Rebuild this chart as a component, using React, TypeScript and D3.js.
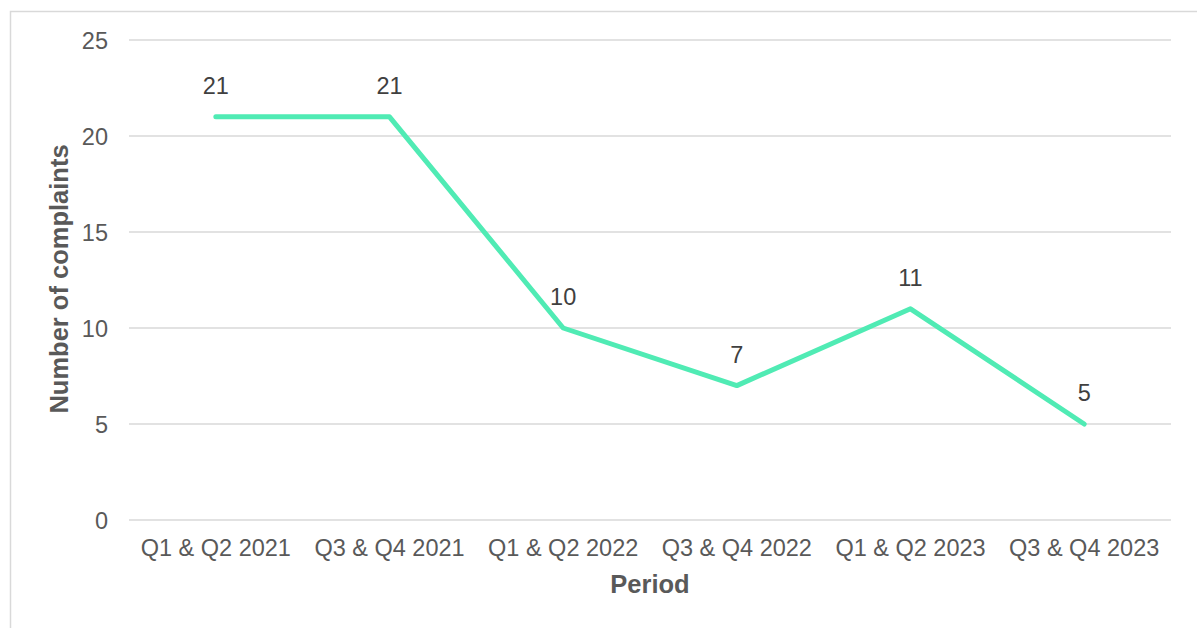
import React, { useRef, useEffect } from 'react';
import * as d3 from 'd3';

const periods = ['Q1 & Q2 2021', 'Q3 & Q4 2021', 'Q1 & Q2 2022', 'Q3 & Q4 2022', 'Q1 & Q2 2023', 'Q3 & Q4 2023'];
const complaints = [21, 21, 10, 7, 11, 5];
const yTicks = [0, 5, 10, 15, 20, 25];

const width = 1197;
const height = 628;
const font = "'Liberation Sans', Arial, sans-serif";

const App = () => {
  const ref = useRef<SVGSVGElement>(null);

  useEffect(() => {
    const svg = d3.select(ref.current);
    svg.selectAll('*').remove();

    // outer frame (runs off the right and bottom edges)
    svg.append('rect')
      .attr('x', 10.5).attr('y', 11.5)
      .attr('width', 1300).attr('height', 800)
      .attr('fill', 'none')
      .attr('stroke', '#d9d9d9')
      .attr('stroke-width', 1.5);

    const x = d3.scaleBand<string>().domain(periods).range([129, 1171]);
    const y = d3.scaleLinear().domain([0, 25]).range([520, 40]);

    // gridlines
    svg.append('g').selectAll('line')
      .data(yTicks)
      .join('line')
      .attr('x1', 129).attr('x2', 1171)
      .attr('y1', d => y(d)).attr('y2', d => y(d))
      .attr('stroke', '#d9d9d9')
      .attr('stroke-width', 1.3);

    // y tick labels
    svg.append('g').selectAll('text')
      .data(yTicks)
      .join('text')
      .attr('x', 108)
      .attr('y', d => y(d) + 8.5)
      .attr('text-anchor', 'end')
      .attr('font-family', font)
      .attr('font-size', 23.5)
      .attr('fill', '#595959')
      .text(d => d);

    // x tick labels
    svg.append('g').selectAll('text')
      .data(periods)
      .join('text')
      .attr('x', d => (x(d) ?? 0) + x.bandwidth() / 2)
      .attr('y', 556)
      .attr('text-anchor', 'middle')
      .attr('font-family', font)
      .attr('font-size', 23.5)
      .attr('fill', '#595959')
      .text(d => d);

    // line
    const line = d3.line<number>()
      .x((_, i) => (x(periods[i]) ?? 0) + x.bandwidth() / 2)
      .y(d => y(d));

    svg.append('path')
      .datum(complaints)
      .attr('d', line)
      .attr('fill', 'none')
      .attr('stroke', '#50EBB4')
      .attr('stroke-width', 5)
      .attr('stroke-linecap', 'round')
      .attr('stroke-linejoin', 'round');

    // data labels
    svg.append('g').selectAll('text')
      .data(complaints)
      .join('text')
      .attr('x', (_, i) => (x(periods[i]) ?? 0) + x.bandwidth() / 2)
      .attr('y', d => y(d) - 23)
      .attr('text-anchor', 'middle')
      .attr('font-family', font)
      .attr('font-size', 23.5)
      .attr('fill', '#404040')
      .text(d => d);

    // axis titles
    svg.append('text')
      .attr('x', 650).attr('y', 593)
      .attr('text-anchor', 'middle')
      .attr('font-family', font)
      .attr('font-size', 25.5)
      .attr('font-weight', 'bold')
      .attr('fill', '#595959')
      .text('Period');

    svg.append('text')
      .attr('transform', 'translate(68, 279) rotate(-90)')
      .attr('text-anchor', 'middle')
      .attr('font-family', font)
      .attr('font-size', 25.5)
      .attr('font-weight', 'bold')
      .attr('fill', '#595959')
      .text('Number of complaints');
  }, []);

  return (
    <svg
      ref={ref}
      width={width}
      height={height}
      style={{ position: 'absolute', left: 0, top: 0, display: 'block', background: '#fff' }}
    />
  );
};

export default App;
